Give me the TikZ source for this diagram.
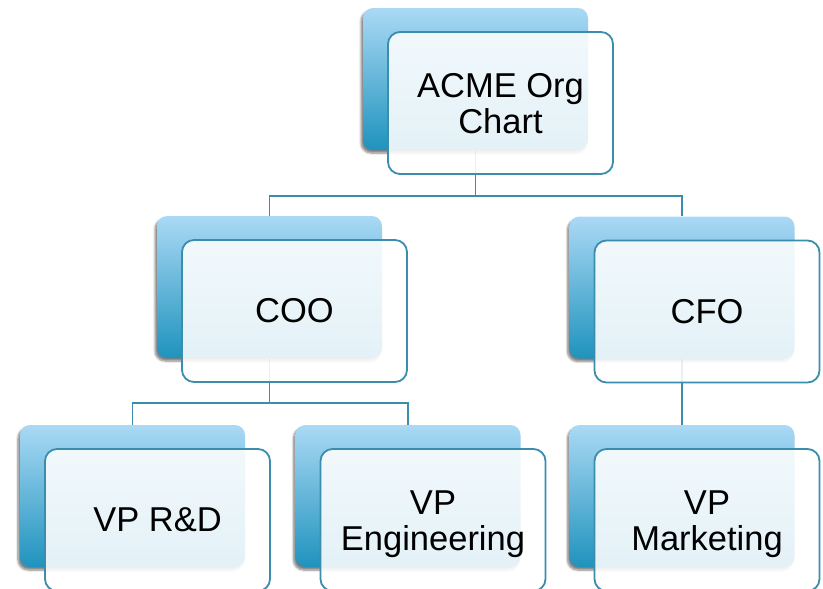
\documentclass[tikz,border=0pt]{standalone}
\usepackage{fontspec}
\setmainfont{Liberation Sans}
\usetikzlibrary{shadows.blur,calc}
\pgfdeclarelayer{bg}
\pgfsetlayers{bg,main}
\definecolor{cardtop}{HTML}{AAD9F5}
\definecolor{cardbot}{HTML}{1F93BD}
\definecolor{edgeblue}{HTML}{3A8DAC}
\newcommand\twolines[3]{\raisebox{#3}[\height][\depth]{\begin{tabular}{@{}c@{}}#1\\#2\end{tabular}}}
\tikzset{
  backcard/.style={rectangle, rounded corners=10pt, minimum width=225pt, minimum height=142pt,
    inner sep=0pt, top color=cardtop, bottom color=cardbot, draw=none,
    blur shadow={shadow xshift=-2pt, shadow yshift=-3pt, shadow opacity=50, shadow blur steps=6}},
  frontcard/.style={rectangle, rounded corners=12pt, minimum width=225pt, minimum height=142pt,
    inner sep=0pt, draw=edgeblue, line width=1.8pt, fill=white, fill opacity=0.88,
    text opacity=1, align=center, font=\fontsize{34.5}{34.4}\selectfont},
  link/.style={draw=edgeblue, line width=1.8pt},
}
\begin{document}
\begin{tikzpicture}[x=1pt,y=-1pt]
\useasboundingbox (0,0) rectangle (823,589);
% back cards
\node[backcard] (acmeB) at (475.5,79) {};
\node[backcard] (cooB) at (269.5,287) {};
\node[backcard] (cfoB) at (682,287.5) {};
\node[backcard] (rdB) at (132.5,496) {};
\node[backcard] (engB) at (408,496) {};
\node[backcard] (mktB) at (682,496) {};
% front cards
\node[frontcard] (acme) at (500.5,103) {\twolines{ACME Org}{Chart}{-5.5pt}};
\node[frontcard] (coo) at (294.5,311) {COO};
\node[frontcard] (cfo) at (707,311.5) {CFO};
\node[frontcard] (rd) at (157.5,520) {VP R\&D};
\node[frontcard] (eng) at (433,520) {\twolines{VP}{Engineering}{-5.5pt}};
\node[frontcard] (mkt) at (707,520) {\twolines{VP}{Marketing}{-5.5pt}};
% bus levels
\coordinate (bus1) at (0,196);
\coordinate (bus2) at (0,403);
\begin{pgfonlayer}{bg}
\draw[link] (acmeB.south) -- (acmeB.south |- bus1) -| (cooB.north);
\draw[link] (acmeB.south |- bus1) -| (cfoB.north);
\draw[link] (cooB.south) -- (cooB.south |- bus2) -| (rdB.north);
\draw[link] (cooB.south |- bus2) -| (engB.north);
\draw[link] (cfoB.south) -- (mktB.north);
\end{pgfonlayer}
\end{tikzpicture}
\end{document}
